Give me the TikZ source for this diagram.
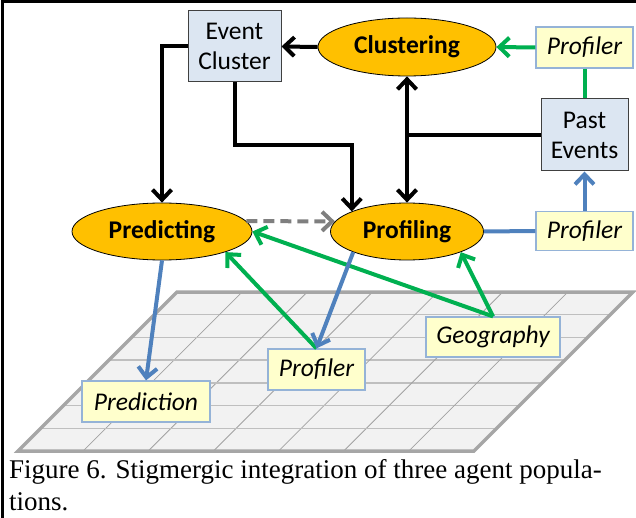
\documentclass[tikz,border=0pt]{standalone}
\usepackage{fontspec}
\setmainfont{Liberation Serif}
\newfontfamily\calib{Carlito}
\usetikzlibrary{arrows.meta,shapes.geometric}
\definecolor{agentfill}{HTML}{FFC000}
\definecolor{storefill}{HTML}{DCE6F2}
\definecolor{tagfill}{HTML}{FFFFCC}
\definecolor{tagline}{HTML}{95B3D7}
\definecolor{grn}{HTML}{00B050}
\definecolor{blu}{HTML}{4F81BD}
\definecolor{dashgray}{HTML}{7F7F7F}
\definecolor{gridfill}{HTML}{F2F2F2}
\definecolor{gridedge}{HTML}{A6A6A6}
\definecolor{gridline}{HTML}{BFBFBF}
\tikzset{barb/.tip={Straight Barb[length=10pt,width=19pt]}}
\begin{document}
\begin{tikzpicture}[x=1pt,y=-1pt,
  lbl/.style={align=center, inner sep=0pt},
  store/.style={lbl, rectangle, draw=black!75, line width=1pt, fill=storefill,
    font=\calib\fontsize{25.5}{30}\selectfont},
  tag/.style={lbl, rectangle, draw=tagline, line width=1.2pt, fill=tagfill,
    font=\calib\itshape\fontsize{25.5}{30}\selectfont},
  agent/.style={lbl, ellipse, draw=black, line width=0.8pt, fill=agentfill,
    font=\calib\bfseries\fontsize{25.5}{30}\selectfont},
  link/.style={line width=4pt},
  flow/.style={link, -barb},
  twoway/.style={link, barb-barb},
  caption/.style={anchor=base west, inner sep=0pt, font=\fontsize{27}{32}\selectfont}]
\useasboundingbox (0,0) rectangle (636,518);

% shared environment: a 7x7 grid in perspective
\fill[gridfill] (177,292) -- (633,292) -- (474,451) -- (18,451) -- cycle;
\foreach \i in {1,...,6} {
  \draw[gridline, line width=1.3pt]
    ({177-\i*159/7},{292+\i*159/7}) -- ({633-\i*159/7},{292+\i*159/7});
  \draw[gridline!85!black, line width=0.8pt]
    ({177+\i*456/7},292) -- ({18+\i*456/7},451);
}
\draw[gridedge, line width=3.5pt] (177,292) -- (633,292) -- (474,451) -- (18,451) -- cycle;

% page frame
\draw[line width=3pt] (2,518) -- (2,2) -- (636,2);

% stores and agent populations
\node[store, minimum width=93pt, minimum height=71pt] (ec) at (234.5,46.5) {Event\\Cluster};
\node[agent, minimum width=178pt, minimum height=58pt] (cl) at (407,47) {Clustering};
\node[tag, minimum width=97pt, minimum height=41pt] (pf1) at (584.5,47.5) {Profiler};
\node[store, minimum width=87pt, minimum height=72pt] (pe) at (584.5,135) {Past\\Events};
\node[agent, minimum width=180pt, minimum height=57pt] (pr) at (162,231.5) {Predicting};
\node[agent, minimum width=153pt, minimum height=57pt] (pg) at (407,231.5) {Profiling};
\node[tag, minimum width=97pt, minimum height=39pt] (pf2) at (584.5,231) {Profiler};
\node[tag, minimum width=134pt, minimum height=40pt] (geo) at (493,337) {Geography};
\node[tag, minimum width=97pt, minimum height=41pt] (pf3) at (316.5,369.5) {Profiler};
\node[tag, minimum width=128pt, minimum height=41pt] (pd) at (146,401.5) {Prediction};

% black data flows
\draw[flow] (cl.west) -- (ec.east);
\draw[flow] (ec.west) -| (pr.north);
\draw[flow] (ec.south) -- ++(0,63) -| (pg.160);
\draw[twoway] (cl.south) -- (pg.north);
\draw[link] (pe.west) -- (pe.west -| cl.south);

% green flows
\draw[flow, grn] (pf1.west) -- (cl.east);
\draw[link, grn] (pf1.south) -- (pe.north);
\draw[flow, grn] (geo.north) -- (pr.east);
\draw[flow, grn] (geo.north) -- (pg.-21);
\draw[flow, grn] (pf3.north) -- (pr.-18);

% blue flows
\draw[flow, blu] (pf2.north) -- (pe.south);
\draw[link, blu] (pg.east) -- (pf2.west);
\draw[flow, blu] (pg.201) -- (pf3.north);
\draw[flow, blu] (pr.south) -- (pd.north);

% dashed hand-over
\draw[flow, dashgray, dash pattern=on 11pt off 6pt] (pr.7) -- (pg.172);

% caption
\node[caption] (cap1) at (9,478) {Figure 6. Stigmergic integration of three agent popula-};
\node[caption] (cap2) at (9,510) {tions.};
\end{tikzpicture}
\end{document}
